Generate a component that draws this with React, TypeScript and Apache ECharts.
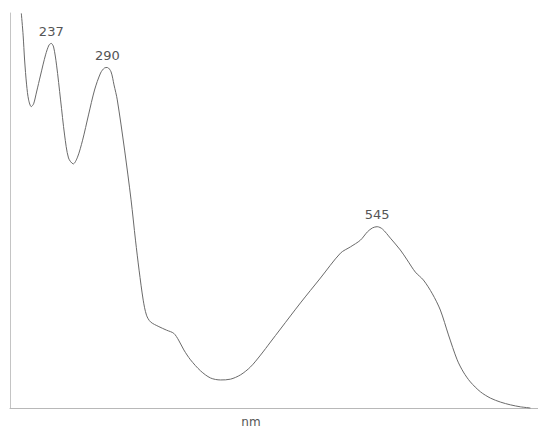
import React, { useEffect, useRef } from "react";
import * as echarts from "echarts";

// Wavelength (nm) and relative absorbance
const wavelengths = [
  208.7, 210.4, 211.8, 213.7, 215.6, 218.1, 220.3, 223.1, 226.9, 231.6, 234.9, 237,
  239.2, 242.0, 245.8, 249.6, 253.3, 257.8, 261.8, 266.6, 272.2, 277.9, 283.6, 287.4,
  290, 293.5, 296.3, 299.4, 306.3, 312.4, 316.6, 320.0, 323.9, 327.0, 330.8, 338.7,
  346.0, 352.8, 357.3, 362.3, 368.6, 378.1, 387.5, 396.9, 406.4, 415.9, 425.3, 434.8,
  444.2, 453.6, 472.5, 491.4, 510.3, 519.8, 529.2, 535.8, 540.6, 545, 550.0, 557.5,
  566.9, 573.3, 581.1, 588.7, 597.2, 604.7, 612.4, 620.6, 626.5, 633.1, 642.6, 652.1,
  661.5, 670.9, 680.4, 689.8,
];
const absorbance = [
  0.999, 0.944, 0.881, 0.818, 0.78, 0.763, 0.77, 0.8, 0.843, 0.894, 0.919, 0.923,
  0.914, 0.868, 0.78, 0.691, 0.633, 0.618, 0.635, 0.678, 0.742, 0.805, 0.848, 0.861,
  0.862, 0.851, 0.818, 0.78, 0.653, 0.527, 0.425, 0.349, 0.273, 0.235, 0.218, 0.206,
  0.197, 0.189, 0.172, 0.147, 0.122, 0.094, 0.076, 0.071, 0.073, 0.084, 0.104, 0.134,
  0.167, 0.2, 0.266, 0.329, 0.392, 0.408, 0.425, 0.446, 0.456, 0.459, 0.453, 0.43,
  0.4, 0.375, 0.344, 0.324, 0.289, 0.248, 0.185, 0.122, 0.091, 0.066, 0.041, 0.025,
  0.015, 0.008, 0.003, 0.0,
];
const peakLabels = [237, 290, 545];
const axisName = "nm";

export default function App() {
  const ref = useRef<HTMLDivElement>(null);
  useEffect(() => {
    if (!ref.current) return;
    const chart = echarts.init(ref.current, undefined, { renderer: "svg" });
    const data = wavelengths.map((w, i) => [w, absorbance[i]]);
    const peaks = peakLabels.map((w) => {
      const i = wavelengths.indexOf(w);
      return { coord: [w, absorbance[i]], value: w };
    });
    chart.setOption({
      animation: false,
      backgroundColor: "#fff",
      grid: { left: 10, right: 0, top: 13, bottom: 22, outerBoundsMode: "none", containLabel: false },
      xAxis: {
        type: "value",
        min: 198,
        max: 697,
        name: axisName,
        nameLocation: "middle",
        nameGap: 8,
        nameTextStyle: {
          color: "#555",
          fontSize: 12,
          fontFamily: "DejaVu Sans",
          padding: [0, 46, 0, 0],
        },
        axisLine: { show: true, lineStyle: { color: "#b8b8b8", width: 1 } },
        axisTick: { show: false },
        axisLabel: { show: false },
        splitLine: { show: false },
      },
      yAxis: {
        type: "value",
        min: 0,
        max: 1,
        axisLine: { show: true, lineStyle: { color: "#c4c4c4", width: 1 } },
        axisTick: { show: false },
        axisLabel: { show: false },
        splitLine: { show: false },
      },
      series: [
        {
          type: "line",
          data,
          smooth: 0.3,
          showSymbol: false,
          symbol: "none",
          lineStyle: { color: "#6a6a6a", width: 1 },
          clip: false,
          markPoint: {
            symbol: "circle",
            symbolSize: 1,
            itemStyle: { color: "rgba(0,0,0,0)" },
            label: {
              show: true,
              position: "top",
              distance: 5,
              formatter: "{c}",
              color: "#555",
              fontSize: 13,
              fontFamily: "DejaVu Sans",
            },
            data: peaks,
          },
        },
      ],
    });
    return () => chart.dispose();
  }, []);
  return <div ref={ref} style={{ width: 538, height: 430, position: "absolute", left: 0, top: 0 }} />;
}
